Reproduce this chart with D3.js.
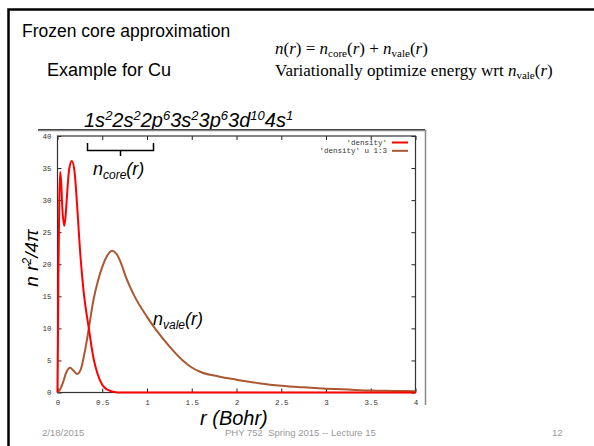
<!DOCTYPE html>
<meta charset="utf-8">
<head>
<title>Frozen core approximation</title>
<style>
  body { margin: 0; background: #fff; }
  svg { display: block; }
  .tick text { font: 7.5px "Liberation Mono", monospace; fill: #333; }
  .sans { font-family: "Liberation Sans", Arial, sans-serif; }
  .serif { font-family: "Liberation Serif", "Times New Roman", serif; }
</style>
</head>
<body>
<script src="https://cdn.jsdelivr.net/npm/d3@7/dist/d3.min.js"></script>
<script>

// radial density of Cu
var coreR   = [0, 0.005, 0.01, 0.02, 0.03, 0.04, 0.055, 0.075, 0.09, 0.11, 0.13, 0.16, 0.19, 0.22, 0.25, 0.29, 0.35, 0.4, 0.45, 0.5, 0.55, 0.6, 0.65, 0.7, 1, 2, 3, 4];
var coreN   = [0, 8, 18, 30, 34.4, 33, 28.5, 26, 27.5, 31.5, 34.8, 36.1, 34.5, 29, 22.5, 16, 10, 5.5, 2.8, 1.2, 0.5, 0.2, 0.05, 0, 0, 0, 0, 0];
var valeR   = [0, 0.03, 0.06, 0.1, 0.14, 0.18, 0.22, 0.26, 0.3, 0.35, 0.4, 0.45, 0.5, 0.55, 0.61, 0.66, 0.7, 0.77, 0.85, 1.0, 1.1, 1.25, 1.4, 1.5, 1.6, 1.8, 2.0, 2.25, 2.5, 2.75, 3.0, 3.25, 3.5, 3.75, 4.0];
var valeN   = [0, 0.5, 1.5, 3.2, 3.85, 3.4, 2.9, 3.6, 6, 10, 14.3, 17.3, 19.6, 21.2, 22.1, 21.6, 20.5, 17.8, 15.3, 11.8, 9.8, 7.2, 5.0, 3.9, 3.2, 2.5, 2.0, 1.45, 1.05, 0.8, 0.6, 0.45, 0.3, 0.25, 0.2];
var xTicks  = [0, 0.5, 1, 1.5, 2, 2.5, 3, 3.5, 4];
var yTicks  = [0, 5, 10, 15, 20, 25, 30, 35, 40];
var legendLabels = ["'density'", "'density' u 1:3"];
var shells  = [["1s","2"],["2s","2"],["2p","6"],["3s","2"],["3p","6"],["3d","10"],["4s","1"]];

var W = 594, H = 446;
var svg = d3.select("body").append("svg").attr("width", W).attr("height", H);

// slide frame
svg.append("path").attr("d", "M8.5,446 V9.5 H594").attr("fill", "none")
  .attr("stroke", "#000").attr("stroke-width", 2.5);

// slide text
svg.append("text").attr("class", "sans").attr("x", 22).attr("y", 37)
  .style("font-size", "17.5px").text("Frozen core approximation");

function mathN(t, sub) {
  t.append("tspan").style("font-style", "italic").text("n");
  t.append("tspan").attr("dy", 3).style("font-size", "11px").text(sub);
  t.append("tspan").attr("dy", -3).text("(");
  t.append("tspan").style("font-style", "italic").text("r");
  t.append("tspan").text(")");
}

var eq = svg.append("text").attr("class", "serif").attr("x", 275).attr("y", 54)
  .style("font-size", "17px");
eq.append("tspan").style("font-style", "italic").text("n");
eq.append("tspan").text("(");
eq.append("tspan").style("font-style", "italic").text("r");
eq.append("tspan").text(") = ");
mathN(eq, "core");
eq.append("tspan").text(" + ");
mathN(eq, "vale");

svg.append("text").attr("class", "sans").attr("x", 47).attr("y", 76)
  .style("font-size", "18px").text("Example for Cu");

var vo = svg.append("text").attr("class", "serif").attr("x", 275).attr("y", 76)
  .style("font-size", "17px");
vo.append("tspan").text("Variationally optimize energy wrt ");
mathN(vo, "vale");

// electron configuration
var cfg = svg.append("text").attr("class", "sans").attr("x", 84).attr("y", 127)
  .style("font-size", "20px").style("font-style", "italic");
shells.forEach(function(p, i) {
  cfg.append("tspan").attr("dy", i === 0 ? 0 : 7).text(p[0]);
  cfg.append("tspan").attr("dy", -7).style("font-size", "13px").text(p[1]);
});

// embedded figure edge
svg.append("path").attr("d", "M38,130.5 H425.5 V405").attr("fill", "none")
  .attr("stroke", "#888").attr("stroke-width", 1.5);
svg.append("line").attr("x1", 38).attr("x2", 425).attr("y1", 129.5).attr("y2", 129.5)
  .attr("stroke", "#444").attr("stroke-width", 1);

// plot
var x = d3.scaleLinear().domain([0, 4]).range([57.5, 415.5]);
var y = d3.scaleLinear().domain([0, 40]).range([392.5, 136]);

svg.append("g").attr("transform", "translate(0," + y(0) + ")")
  .call(d3.axisBottom(x).tickValues(xTicks).tickSize(-4).tickPadding(7).tickFormat(d3.format("")))
  .call(function(g) { g.select(".domain").remove(); });
svg.append("g").attr("transform", "translate(" + x(0) + ",0)")
  .call(d3.axisLeft(y).tickValues(yTicks).tickSize(-4).tickPadding(6))
  .call(function(g) { g.select(".domain").remove(); });
svg.append("g").attr("transform", "translate(0," + y(40) + ")")
  .call(d3.axisTop(x).tickValues(xTicks).tickSize(-4).tickFormat(""))
  .call(function(g) { g.select(".domain").remove(); });
svg.append("g").attr("transform", "translate(" + x(4) + ",0)")
  .call(d3.axisRight(y).tickValues(yTicks).tickSize(-4).tickFormat(""))
  .call(function(g) { g.select(".domain").remove(); });
svg.selectAll(".tick line").attr("stroke", "#222");

svg.append("rect").attr("x", x(0)).attr("y", y(40))
  .attr("width", x(4) - x(0)).attr("height", y(0) - y(40))
  .attr("fill", "none").attr("stroke", "#333").attr("stroke-width", 1.2);

var line = d3.line().curve(d3.curveMonotoneX)
  .x(function(d) { return x(d[0]); }).y(function(d) { return y(d[1]); });

svg.append("path").datum(d3.zip(valeR, valeN)).attr("d", line)
  .attr("fill", "none").attr("stroke", "#a9582f").attr("stroke-width", 2);
svg.append("path").datum(d3.zip(coreR, coreN)).attr("d", line)
  .attr("fill", "none").attr("stroke", "#ff0000").attr("stroke-width", 2);

// legend
var legColors = ["#ff0000", "#a9582f"];
legendLabels.forEach(function(l, i) {
  var ly = 142.5 + i * 8.3;
  svg.append("text").attr("x", 387).attr("y", ly + 2.5).attr("text-anchor", "end")
    .style("font", "7.5px 'Liberation Mono', monospace").attr("fill", "#333").text(l);
  svg.append("line").attr("x1", 392).attr("x2", 408).attr("y1", ly).attr("y2", ly)
    .attr("stroke", legColors[i]).attr("stroke-width", 2);
});

// brace over the core region
svg.append("path").attr("d", "M87.5,143 V150.5 H153.5 V143 M120.5,150.5 V156")
  .attr("fill", "none").attr("stroke", "#000").attr("stroke-width", 1.5);

function nLabel(px, py, sub) {
  var t = svg.append("text").attr("class", "sans").attr("x", px).attr("y", py)
    .style("font-size", "18px").style("font-style", "italic");
  t.append("tspan").text("n");
  t.append("tspan").attr("dy", 4).style("font-size", "12px").text(sub);
  t.append("tspan").attr("dy", -4).text("(r)");
}
nLabel(93, 175, "core");
nLabel(153, 325, "vale");

// axis titles
var yl = svg.append("text").attr("class", "sans")
  .attr("transform", "translate(38,258) rotate(-90)").attr("text-anchor", "middle")
  .style("font-size", "19px").style("font-style", "italic");
yl.append("tspan").text("n r");
yl.append("tspan").attr("dy", -7).style("font-size", "12px").text("2");
yl.append("tspan").attr("dy", 7).text("/4\u03c0");

svg.append("text").attr("class", "sans").attr("x", 200).attr("y", 425)
  .style("font-size", "20px").style("font-style", "italic").text("r (Bohr)");

// footer
svg.append("text").attr("class", "sans").attr("x", 42).attr("y", 436)
  .style("font-size", "9.5px").attr("fill", "#999").text("2/18/2015");
svg.append("text").attr("class", "sans").attr("x", 225).attr("y", 436)
  .style("font-size", "9.5px").attr("fill", "#999").attr("xml:space", "preserve")
  .text("PHY 752  Spring 2015 -- Lecture 15");
svg.append("text").attr("class", "sans").attr("x", 552).attr("y", 436)
  .style("font-size", "9.5px").attr("fill", "#999").text("12");

</script>
</body>
